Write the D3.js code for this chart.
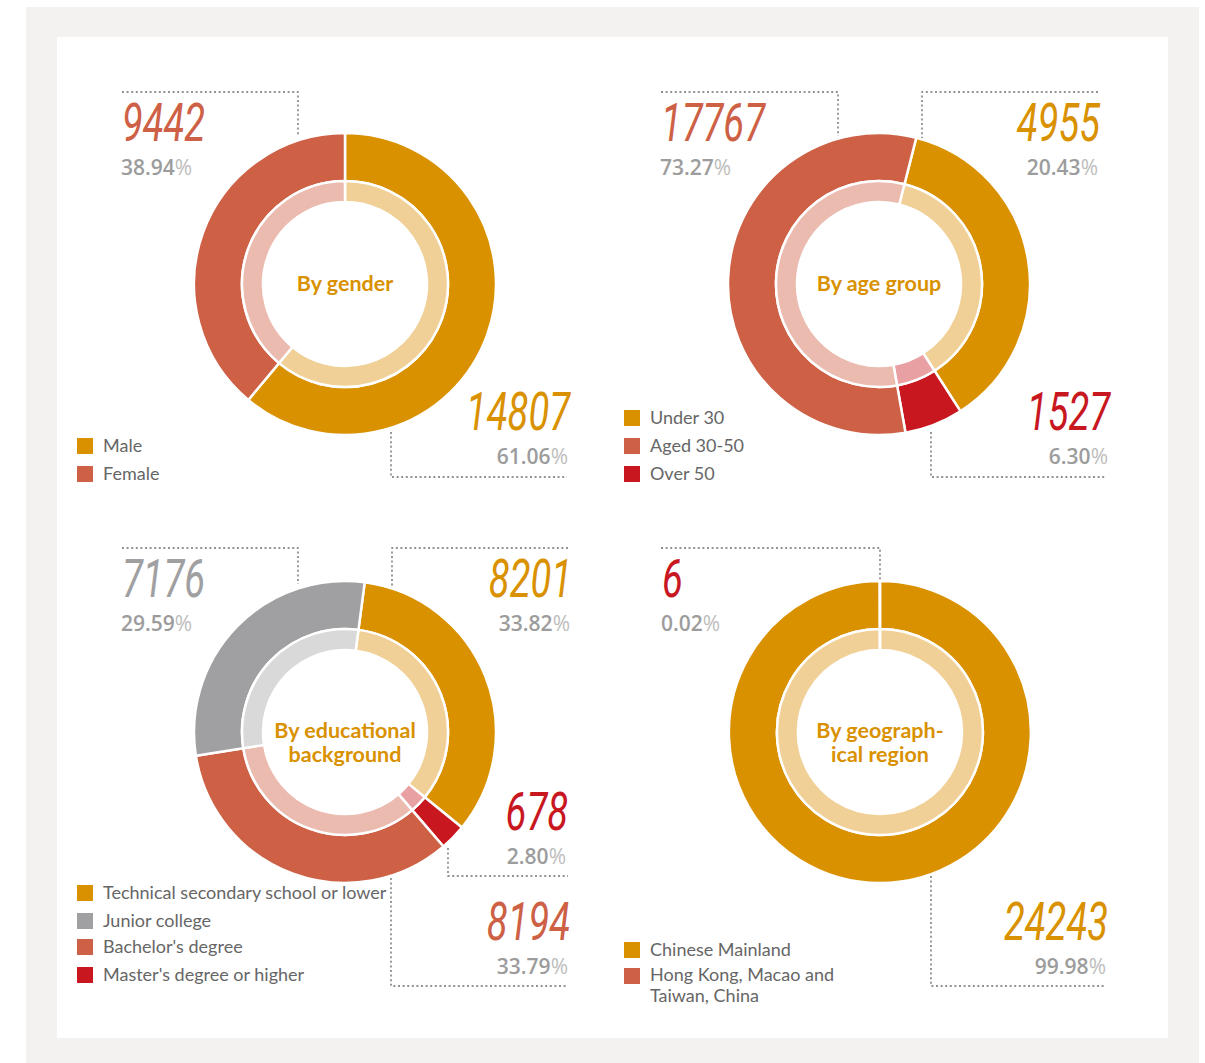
<!DOCTYPE html>
<html><head><meta charset="utf-8">
<script src="https://cdn.jsdelivr.net/npm/d3@7"></script>
<style>
html,body{margin:0;padding:0;background:#fff;}
svg{display:block;}
</style></head>
<body>
<svg id="chart" width="1205" height="1063"></svg>
<script>
// ---------- data ----------
const genderLabels = ["Male", "Female"];
const genderCounts = [14807, 9442];
const genderPct = ["61.06", "38.94"];

const ageLabels = ["Under 30", "Aged 30-50", "Over 50"];
const ageCounts = [4955, 17767, 1527];
const agePct = ["20.43", "73.27", "6.30"];
// share of the ring as it is drawn in the reference (its arcs are not to scale)
const ageArcShare = [36.97, 56.78, 6.25];

const eduLabels = ["Technical secondary school or lower", "Junior college", "Bachelor's degree", "Master's degree or higher"];
const eduCounts = [8201, 7176, 8194, 678];
const eduPct = ["33.82", "29.59", "33.79", "2.80"];

const regionLabels = ["Chinese Mainland", "Hong Kong, Macao and\nTaiwan, China"];
const regionCounts = [24243, 6];
const regionPct = ["99.98", "0.02"];

const titles = ["By gender", "By age group", "By educational\nbackground", "By geograph-\nical region"];

// ---------- style ----------
const C = {orange:"#D99100", salmon:"#CD6045", red:"#C8171F", grey:"#A0A0A2"};
const L = {orange:"#F0D096", salmon:"#EBBBB0", red:"#E9A0A3", grey:"#D9D9D9"};

const svg = d3.select("#chart");
svg.append("rect").attr("x",26).attr("y",7).attr("width",1173).attr("height",1060).attr("fill","#F3F2F0");
svg.append("rect").attr("x",57).attr("y",37).attr("width",1111).attr("height",1001).attr("fill","#fff");

const charts = [
  {cx:345, cy:284, start:0, order:[0,1], values:genderCounts, colors:["orange","salmon"],
   labels:genderLabels, counts:genderCounts, pct:genderPct, legend:{x:77,y:446},
   tags:[
     {i:1, x:122, y:141, anchor:"start", path:[[122,92],[298,92],[298,136]]},
     {i:0, x:570, y:430, anchor:"end", path:[[391,432],[391,477],[567,477]]}
   ]},
  {cx:879, cy:284, start:14.3, order:[0,2,1], values:ageArcShare, colors:["orange","salmon","red"],
   labels:ageLabels, counts:ageCounts, pct:agePct, legend:{x:624,y:418},
   tags:[
     {i:1, x:661, y:141, anchor:"start", path:[[661,92],[838,92],[838,136]]},
     {i:0, x:1100, y:141, anchor:"end", path:[[1098,92],[922,92],[922,140]]},
     {i:2, x:1110, y:430, anchor:"end", path:[[931,432],[931,477],[1106,477]]}
   ]},
  {cx:345, cy:732, start:7.5, order:[0,3,2,1], values:eduCounts, colors:["orange","grey","salmon","red"],
   labels:eduLabels, counts:eduCounts, pct:eduPct, legend:{x:77,y:893},
   tags:[
     {i:1, x:122, y:597, anchor:"start", path:[[122,548],[298,548],[298,584]]},
     {i:0, x:572, y:597, anchor:"end", path:[[568,548],[392,548],[392,590]]},
     {i:3, x:568, y:830, anchor:"end", path:[[448,848],[448,876],[568,876]]},
     {i:2, x:570, y:940, anchor:"end", path:[[391,878],[391,986],[568,986]]}
   ]},
  {cx:880, cy:732, start:0, order:[0,1], values:regionCounts, colors:["orange","salmon"],
   labels:regionLabels, counts:regionCounts, pct:regionPct, legend:{x:624,y:950},
   tags:[
     {i:1, x:662, y:597, anchor:"start", color:"red", path:[[661,548],[880,548],[880,582]]},
     {i:0, x:1108, y:940, anchor:"end", path:[[931,876],[931,986],[1106,986]]}
   ]}
];

const rOuter = 151, rMid = 103, rInner = 82;
const arcOuter = d3.arc().innerRadius(rMid).outerRadius(rOuter);
const arcInner = d3.arc().innerRadius(rInner).outerRadius(rMid);
const numFont = "Roboto, 'Liberation Sans', sans-serif";
const txtFont = "Lato, 'Noto Sans', sans-serif";
const pctFont = "'Open Sans', Lato, sans-serif";

charts.forEach((ch, ci) => {
  ch.tags.forEach(t => {
    svg.append("path").attr("d", d3.line()(t.path))
      .attr("fill","none").attr("stroke","#6f6f6f").attr("stroke-width",1.4)
      .attr("stroke-dasharray","2,2.6");
  });

  const g = svg.append("g").attr("transform", `translate(${ch.cx},${ch.cy})`);
  const s = ch.start * Math.PI / 180;
  const items = ch.order.map(i => ({i, v: ch.values[i]}));
  const pie = d3.pie().sort(null).value(d => d.v).startAngle(s).endAngle(s + 2*Math.PI);
  const arcs = pie(items);
  g.selectAll("path.o").data(arcs).join("path").attr("class","o")
    .attr("d", arcOuter).attr("fill", d => C[ch.colors[d.data.i]])
    .attr("stroke","#fff").attr("stroke-width",2.5);
  g.selectAll("path.n").data(arcs).join("path").attr("class","n")
    .attr("d", arcInner).attr("fill", d => L[ch.colors[d.data.i]])
    .attr("stroke","#fff").attr("stroke-width",2.5);

  const tl = titles[ci].split("\n");
  const tt = g.append("text").attr("text-anchor","middle").attr("font-family",txtFont)
    .attr("font-weight",700).attr("font-size",21.5).attr("fill","#D99100");
  tl.forEach((line, k) => {
    tt.append("tspan").attr("x",0).attr("y", (tl.length === 1 ? 7 : 6 + k*24)).text(line);
  });

  ch.tags.forEach(t => {
    const col = C[t.color || ch.colors[t.i]];
    svg.append("text").attr("transform", `translate(${t.x},${t.y}) scale(0.72,1)`)
      .attr("text-anchor", t.anchor).attr("font-family", numFont)
      .attr("font-style","italic").attr("font-weight",400).attr("font-size",53)
      .attr("fill", col).text(ch.counts[t.i]);
    const p = svg.append("text").attr("x", t.anchor === "end" ? t.x - 2 : t.x - 1).attr("y", t.y + 34)
      .attr("text-anchor", t.anchor).attr("font-family", pctFont).attr("font-size",21);
    p.append("tspan").attr("fill","#9c9c9c").attr("font-weight",600).text(ch.pct[t.i]);
    p.append("tspan").attr("fill","#bdbdbd").attr("font-weight",400).text("%");
  });

  let y = ch.legend.y;
  ch.labels.forEach((lab, i) => {
    svg.append("rect").attr("x", ch.legend.x).attr("y", y - 8).attr("width",16).attr("height",16)
      .attr("fill", C[ch.colors[i]]);
    const lines = lab.split("\n");
    lines.forEach((ln, k) => svg.append("text").attr("font-family",txtFont).attr("font-size",18)
      .attr("fill","#666").attr("x", ch.legend.x + 26).attr("y", y + 6 + k*21 - (lines.length > 1 ? 1 : 0)).text(ln));
    y += (ci === 3 ? 26 : (ci === 2 && i === 1 ? 26 : 28));
  });
});
</script>
</body></html>
